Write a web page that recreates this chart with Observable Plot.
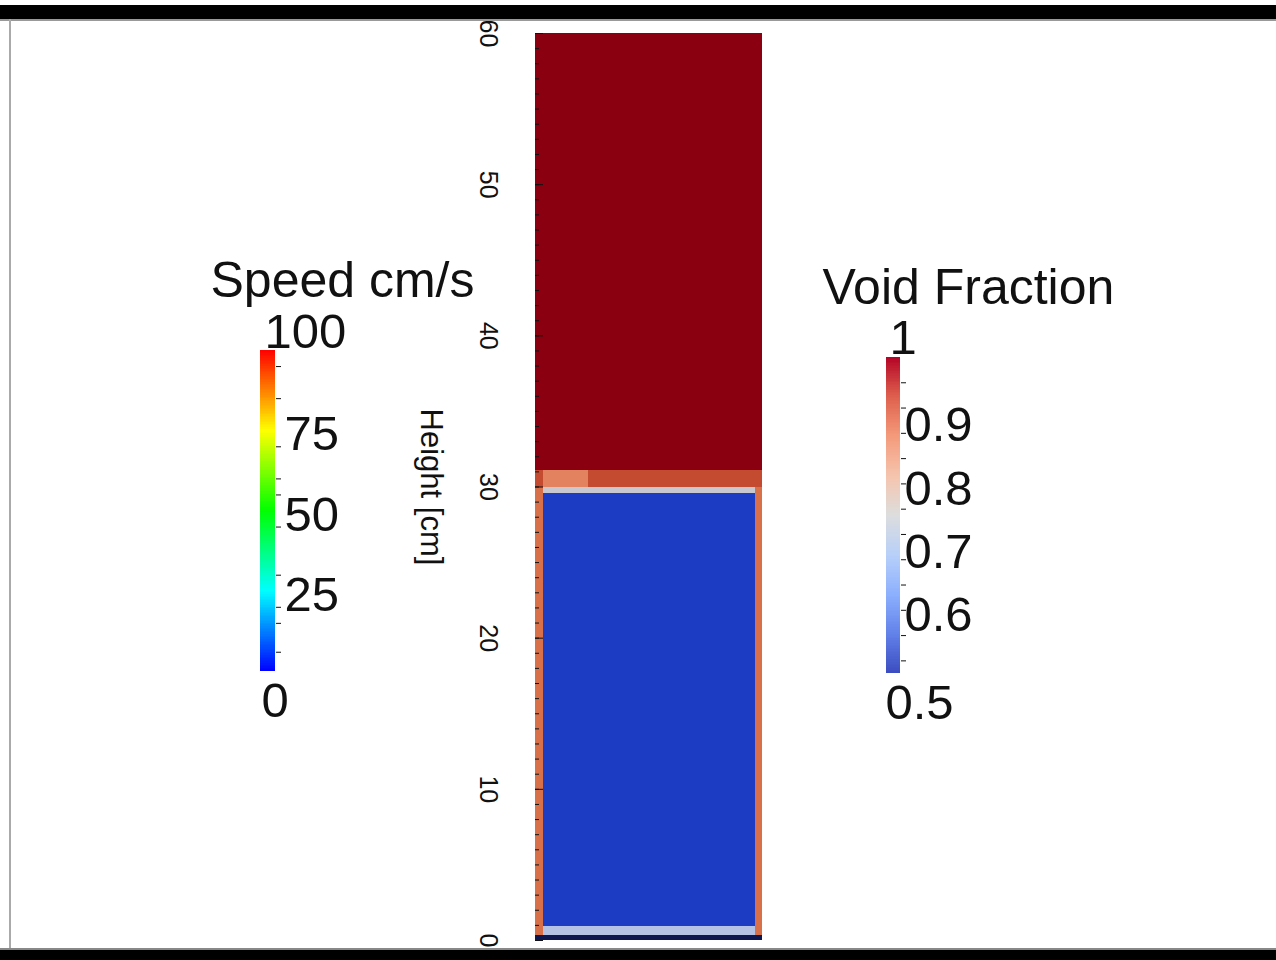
<!DOCTYPE html>
<html><head><meta charset="utf-8">
<script src="https://cdn.jsdelivr.net/npm/d3@7"></script>
<script src="https://cdn.jsdelivr.net/npm/@observablehq/plot@0.6"></script>
<style>
body{margin:0;background:#fff;}
#page{position:relative;width:1276px;height:960px;overflow:hidden;background:#fff;font-family:"Liberation Sans",Arial,sans-serif;}
#page svg{position:absolute;left:0;top:0;background:transparent;}
.frame{position:absolute;}
</style></head><body><div id="page"></div>
<script>
// ---- data ----
// column cells (cm) with void fraction
const cells = [
  {x1: 0,     x2: 15,    y1: 31.1,  y2: 60,    voidFraction: 1.0},
  {x1: 0,     x2: 0.53,  y1: 29.95, y2: 31.1,  voidFraction: 0.96},
  {x1: 0.53,  x2: 3.5,   y1: 29.95, y2: 31.1,  voidFraction: 0.9},
  {x1: 3.5,   x2: 15,    y1: 29.95, y2: 31.1,  voidFraction: 0.96},
  {x1: 0,     x2: 0.53,  y1: 0,     y2: 29.95, voidFraction: 0.88},
  {x1: 14.55, x2: 15,    y1: 0,     y2: 29.95, voidFraction: 0.88},
  {x1: 0.53,  x2: 14.55, y1: 29.6,  y2: 29.95, voidFraction: 0.75},
  {x1: 0.53,  x2: 14.55, y1: 0.9,   y2: 29.6,  voidFraction: 0.5},
  {x1: 0.53,  x2: 14.55, y1: 0.35,  y2: 0.9,   voidFraction: 0.72},
  {x1: 0,     x2: 15,    y1: 0,     y2: 0.35,  voidFraction: 0.45}
];
const heightMajorTicks = [0, 10, 20, 30, 40, 50, 60];
const heightMinorTicks = d3.range(0, 61, 1);
const heightLabel = "Height [cm]";

const speedTitle = "Speed cm/s";
const speedLabels = [25, 50, 75];
const speedMax = 100, speedMin = 0;
const speedMinorTicks = [6, 15, 20, 30, 45, 55, 60, 70, 85, 95];

const voidTitle = "Void Fraction";
const voidLabels = [0.6, 0.7, 0.8, 0.9];
const voidMax = 1, voidMin = 0.5;
const voidMinorTicks = [0.52, 0.56, 0.6, 0.64, 0.68, 0.72, 0.76, 0.8, 0.84, 0.88, 0.92, 0.96];

// ---- styles ----
const W = 1276, H = 960;
const font = "Liberation Sans, Arial, sans-serif";
const columnColorDomain = [0.45, 0.5, 0.72, 0.75, 0.88, 0.9, 0.96, 1];
const columnColorRange = ["#0e1650", "#1c3cc4", "#b4c2e6", "#c8c8d0", "#d8704a", "#e2825e", "#c44a30", "#8b0010"];
const rainbow = ["#0000ff", "#00ffff", "#00ff00", "#ffff00", "#ff0000"];
const coolwarm = ["#3b4cc0", "#6282ea", "#8db0fe", "#b8d0f9", "#dddddd", "#f5c4ad", "#f49a7b", "#de604d", "#b40426"];
const titleSize = 50, labelSize = 49;

const page = document.getElementById("page");

// main column plot
const main = Plot.plot({
  width: W, height: H,
  marginLeft: 535, marginRight: W - 762, marginTop: 33, marginBottom: H - 940,
  style: {background: "transparent", fontFamily: font},
  x: {domain: [0, 15], axis: null},
  y: {domain: [0, 60]},
  color: {type: "linear", domain: columnColorDomain, range: columnColorRange},
  marks: [
    Plot.rect(cells, {x1: "x1", x2: "x2", y1: "y1", y2: "y2", fill: "voidFraction", shapeRendering: "crispEdges"}),
    Plot.axisY(heightMinorTicks, {tickSize: 4, dx: 4, tickFormat: () => "", label: null, stroke: "#111"}),
    Plot.axisY(heightMajorTicks, {tickSize: 8, dx: 8, tickFormat: () => "", label: null, stroke: "#111"}),
    Plot.text(heightMajorTicks, {y: d => d, text: d => String(d), frameAnchor: "left", textAnchor: "middle", lineAnchor: "middle", dx: -48, rotate: 90, fontSize: 25, fill: "#111"}),
    Plot.text([heightLabel], {frameAnchor: "left", textAnchor: "middle", lineAnchor: "middle", dx: -105, rotate: 90, fontSize: 31, fill: "#111"})
  ]
});
page.appendChild(main);

// speed colorbar
const speedSteps = d3.range(speedMin, speedMax, 0.5);
const speedPlot = Plot.plot({
  width: W, height: H,
  marginLeft: 260, marginRight: W - 275, marginTop: 350, marginBottom: H - 671,
  style: {background: "transparent", fontFamily: font},
  x: {axis: null},
  y: {domain: [speedMin, speedMax]},
  color: {type: "linear", domain: [0, 25, 50, 75, 100], range: rainbow},
  marks: [
    Plot.rect(speedSteps, {y1: d => d, y2: d => d + 0.6, fill: d => d + 0.25, shapeRendering: "crispEdges"}),
    Plot.axisY(speedMinorTicks, {anchor: "right", tickSize: 5, tickFormat: () => "", label: null, stroke: "#111"}),
    Plot.text([speedTitle], {frameAnchor: "top-left", dx: -50, dy: -70, textAnchor: "start", lineAnchor: "middle", fontSize: titleSize, fill: "#111"}),
    Plot.text(speedLabels, {y: d => d, text: d => String(d), frameAnchor: "right", dx: 9, dy: 4, textAnchor: "start", lineAnchor: "middle", fontSize: labelSize, fill: "#111"}),
    Plot.text([speedMax], {y: d => d, text: d => String(d), frameAnchor: "left", dx: 4, dy: -18, textAnchor: "start", lineAnchor: "middle", fontSize: labelSize, fill: "#111"}),
    Plot.text([speedMin], {y: d => d, text: d => String(d), frameAnchor: "left", dx: 1, dy: 30, textAnchor: "start", lineAnchor: "middle", fontSize: labelSize, fill: "#111"})
  ]
});
page.appendChild(speedPlot);

// void fraction colorbar
const voidSteps = d3.range(voidMin, voidMax, 0.0025);
const voidPlot = Plot.plot({
  width: W, height: H,
  marginLeft: 886, marginRight: W - 900, marginTop: 357, marginBottom: H - 673,
  style: {background: "transparent", fontFamily: font},
  x: {axis: null},
  y: {domain: [voidMin, voidMax]},
  color: {type: "linear", domain: d3.range(0, 9).map(i => voidMin + i * (voidMax - voidMin) / 8), range: coolwarm},
  marks: [
    Plot.rect(voidSteps, {y1: d => d, y2: d => d + 0.003, fill: d => d + 0.00125, shapeRendering: "crispEdges"}),
    Plot.axisY(voidMinorTicks, {anchor: "right", tickSize: 5, tickFormat: () => "", label: null, stroke: "#111"}),
    Plot.text([voidTitle], {frameAnchor: "top-left", dx: -64, dy: -70, textAnchor: "start", lineAnchor: "middle", fontSize: titleSize, fill: "#111"}),
    Plot.text(voidLabels, {y: d => d, text: d => String(d), frameAnchor: "right", dx: 4, dy: 5, textAnchor: "start", lineAnchor: "middle", fontSize: labelSize, fill: "#111"}),
    Plot.text([voidMax], {y: d => d, text: d => String(d), frameAnchor: "left", dx: 3, dy: -19, textAnchor: "start", lineAnchor: "middle", fontSize: labelSize, fill: "#111"}),
    Plot.text([voidMin], {y: d => d, text: d => String(d), frameAnchor: "left", dx: -1, dy: 30, textAnchor: "start", lineAnchor: "middle", fontSize: labelSize, fill: "#111"})
  ]
});
page.appendChild(voidPlot);

// screen frame (black bars / grey edge)
function frameDiv(css) { const d = document.createElement("div"); d.className = "frame"; Object.assign(d.style, css); page.appendChild(d); }
frameDiv({left: "0", top: "5px", width: W + "px", height: "14px", background: "#000"});
frameDiv({left: "0", top: "19px", width: W + "px", height: "2px", background: "#999"});
frameDiv({left: "9px", top: "19px", width: "2px", height: "930px", background: "#aaa"});
frameDiv({left: "0", top: "948px", width: W + "px", height: "2px", background: "#888"});
frameDiv({left: "0", top: "950px", width: W + "px", height: "10px", background: "#000"});
</script>
</body></html>
